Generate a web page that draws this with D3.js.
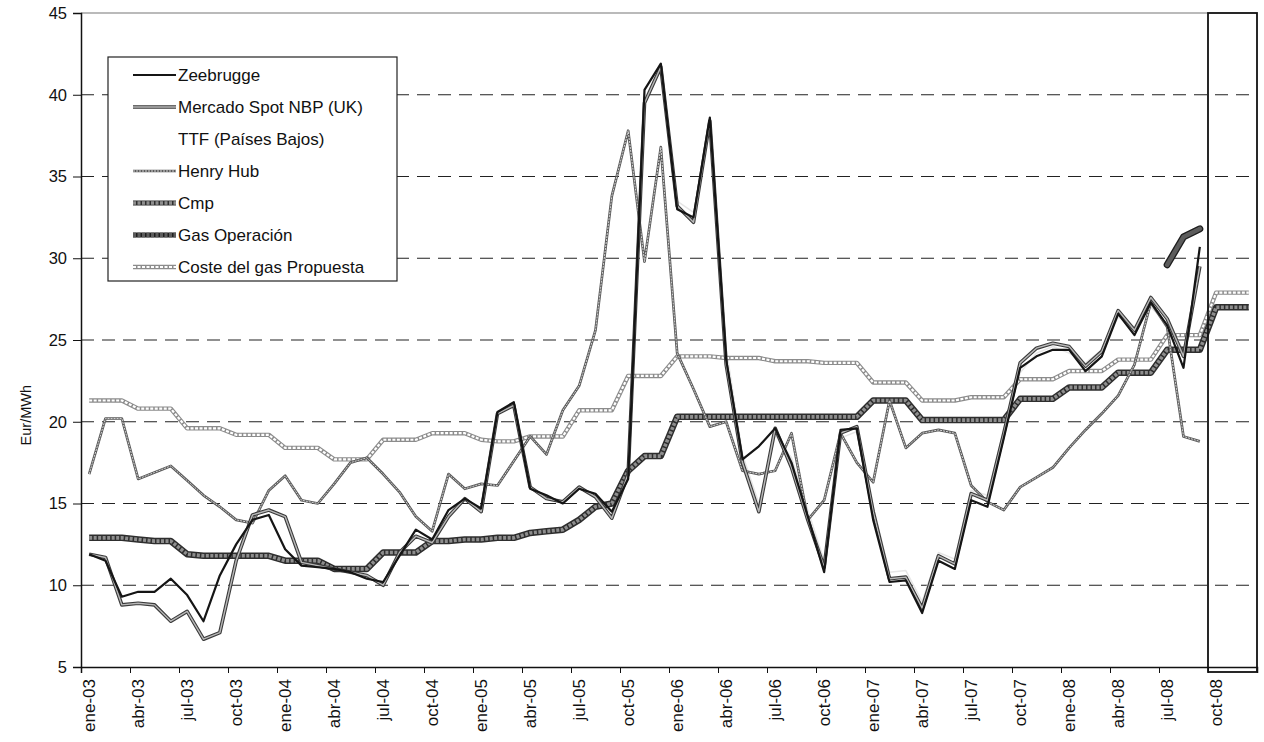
<!DOCTYPE html>
<html><head><meta charset="utf-8">
<script src="https://cdn.jsdelivr.net/npm/d3@7"></script>
<style>
body{margin:0;background:#fff}
text{font-family:"Liberation Sans",Arial,sans-serif;fill:#111}
</style>
</head><body>
<svg id="c" width="1264" height="742"></svg>
<script>
const categories = [
"ene-03","feb-03","mar-03","abr-03","may-03","jun-03","jul-03","ago-03","sep-03","oct-03","nov-03","dic-03",
"ene-04","feb-04","mar-04","abr-04","may-04","jun-04","jul-04","ago-04","sep-04","oct-04","nov-04","dic-04",
"ene-05","feb-05","mar-05","abr-05","may-05","jun-05","jul-05","ago-05","sep-05","oct-05","nov-05","dic-05",
"ene-06","feb-06","mar-06","abr-06","may-06","jun-06","jul-06","ago-06","sep-06","oct-06","nov-06","dic-06",
"ene-07","feb-07","mar-07","abr-07","may-07","jun-07","jul-07","ago-07","sep-07","oct-07","nov-07","dic-07",
"ene-08","feb-08","mar-08","abr-08","may-08","jun-08","jul-08","ago-08","sep-08","oct-08","nov-08","dic-08"];

const tickLabels = ["ene-03","abr-03","jul-03","oct-03","ene-04","abr-04","jul-04","oct-04",
"ene-05","abr-05","jul-05","oct-05","ene-06","abr-06","jul-06","oct-06",
"ene-07","abr-07","jul-07","oct-07","ene-08","abr-08","jul-08","oct-08"];
const yTicks = [5,10,15,20,25,30,35,40,45];

const zeebrugge = [11.9,11.5,9.3,9.6,9.6,10.4,9.4,7.8,10.6,12.5,14.0,14.3,
 12.2,11.2,11.1,11.0,10.8,10.4,10.2,11.8,13.4,12.8,14.6,15.3,
 14.7,20.6,21.2,15.9,15.5,15.0,15.9,15.6,14.5,16.5,40.3,41.9,
 33.0,32.5,38.6,23.8,17.7,18.5,19.6,17.5,14.2,10.8,19.5,19.6,
 14.0,10.2,10.3,8.3,11.5,11.0,15.2,14.8,19.0,23.3,24.0,24.4,
 24.4,23.1,24.0,26.6,25.3,27.3,25.9,23.3,30.7,null,null,null];

const nbp = [11.9,11.7,8.8,8.9,8.8,7.8,8.4,6.7,7.1,11.5,14.3,14.6,
 14.2,11.4,11.2,11.0,10.8,10.6,10.0,12.0,13.0,12.6,14.2,15.3,
 14.5,20.5,21.0,16.0,15.3,15.1,16.0,15.4,14.1,16.8,39.5,41.7,
 33.2,32.2,38.4,23.5,17.5,14.5,19.6,17.2,14.0,11.1,19.3,19.7,
 14.5,10.4,10.5,8.6,11.8,11.3,15.6,15.2,19.3,23.6,24.5,24.8,
 24.6,23.4,24.3,26.8,25.6,27.6,26.3,24.0,29.5,null,null,null];

const ttf = [null,null,null,null,null,null,null,null,null,null,null,null,
 null,null,null,null,null,null,null,null,null,null,null,null,
 null,null,null,null,null,null,null,null,null,null,null,null,
 33.5,32.8,38.0,24.5,18.0,15.0,19.2,17.8,14.6,11.5,19.0,19.4,
 14.8,10.8,10.9,9.0,12.0,11.6,15.8,15.5,19.5,23.0,24.2,24.6,
 24.2,23.6,24.4,26.4,25.8,27.0,26.0,24.4,29.3,null,null,null];

const henryHub = [16.8,20.2,20.2,16.5,16.9,17.3,16.4,15.5,14.8,14.0,13.8,15.8,
 16.7,15.2,15.0,16.2,17.5,17.8,16.8,15.7,14.2,13.3,16.8,15.9,
 16.2,16.1,17.6,19.1,18.0,20.7,22.2,25.6,33.8,37.8,29.8,36.8,
 24.2,22.0,19.7,20.0,17.0,16.8,17.0,19.3,14.0,15.2,19.3,17.5,
 16.3,21.3,18.4,19.3,19.5,19.3,16.1,15.1,14.6,16.0,16.6,17.2,
 18.4,19.5,20.5,21.6,23.5,27.3,25.8,19.1,18.8,null,null,null];

const cmp = [12.9,12.9,12.9,12.8,12.7,12.7,11.9,11.8,11.8,11.8,11.8,11.8,
 11.5,11.5,11.5,11.0,11.0,11.0,12.0,12.0,12.0,12.7,12.7,12.8,
 12.8,12.9,12.9,13.2,13.3,13.4,14.0,14.8,15.0,17.0,17.9,17.9,
 20.3,20.3,20.3,20.3,20.3,20.3,20.3,20.3,20.3,20.3,20.3,20.3,
 21.3,21.3,21.3,20.1,20.1,20.1,20.1,20.1,20.1,21.4,21.4,21.4,
 22.1,22.1,22.1,23.0,23.0,23.0,24.4,24.4,24.4,27.0,27.0,27.0];

const gasOperacion = [null,null,null,null,null,null,null,null,null,null,null,null,
 null,null,null,null,null,null,null,null,null,null,null,null,
 null,null,null,null,null,null,null,null,null,null,null,null,
 null,null,null,null,null,null,null,null,null,null,null,null,
 null,null,null,null,null,null,null,null,null,null,null,null,
 null,null,null,null,null,null,29.6,31.3,31.8,null,null,null];

const costePropuesta = [21.3,21.3,21.3,20.8,20.8,20.8,19.6,19.6,19.6,19.2,19.2,19.2,
 18.4,18.4,18.4,17.7,17.7,17.7,18.9,18.9,18.9,19.3,19.3,19.3,
 18.9,18.8,18.8,19.1,19.1,19.1,20.7,20.7,20.7,22.8,22.8,22.8,
 24.0,24.0,24.0,23.9,23.9,23.9,23.7,23.7,23.7,23.6,23.6,23.6,
 22.4,22.4,22.4,21.3,21.3,21.3,21.5,21.5,21.5,22.6,22.6,22.6,
 23.1,23.1,23.1,23.8,23.8,23.8,25.3,25.3,25.3,27.9,27.9,27.9];

const seriesNames = ["Zeebrugge","Mercado Spot NBP (UK)","TTF (Países Bajos)","Henry Hub","Cmp","Gas Operación","Coste del gas Propuesta"];

const styles = {
  "Zeebrugge": [["#151515",2.2,null]],
  "Mercado Spot NBP (UK)": [["#3a3a3a",3.6,null],["#b8b8b8",1.4,null]],
  "TTF (Países Bajos)": [["#e6e6e6",1.5,null]],
  "Henry Hub": [["#5a5a5a",2.7,null],["#d4d4d4",1.0,"2,1"]],
  "Cmp": [["#2e2e2e",6.5,null],["#8e8e8e",3.6,"3,1.5"]],
  "Gas Operación": [["#1e1e1e",7,null],["#5c5c5c",4.4,"3,1.5"]],
  "Coste del gas Propuesta": [["#8c8c8c",4.4,null],["#ffffff",2.2,"3,1.5"]]
};
const dataBy = {
  "Zeebrugge": zeebrugge, "Mercado Spot NBP (UK)": nbp, "TTF (Países Bajos)": ttf,
  "Henry Hub": henryHub, "Cmp": cmp, "Gas Operación": gasOperacion, "Coste del gas Propuesta": costePropuesta
};
const drawOrder = ["TTF (Países Bajos)","Coste del gas Propuesta","Cmp","Gas Operación","Henry Hub","Mercado Spot NBP (UK)","Zeebrugge"];

const svg = d3.select("#c");
const X0 = 81, X1 = 1257, Y0 = 667, Y1 = 13;
const x = d3.scaleLinear().domain([0, categories.length]).range([X0, X1]);
const y = d3.scaleLinear().domain([5, 45]).range([Y0, Y1]);

svg.append("g").selectAll("line").data(yTicks.filter(v => v > 5 && v < 45)).join("line")
  .attr("x1", X0).attr("x2", X1).attr("y1", d => y(d)).attr("y2", d => y(d))
  .attr("stroke", "#222").attr("stroke-width", 1.2).attr("stroke-dasharray", "13,8");
svg.append("line").attr("x1", X0).attr("x2", x(69)).attr("y1", y(45)).attr("y2", y(45))
  .attr("stroke", "#777").attr("stroke-width", 1.2);

const line = d3.line().defined(d => d != null).x((d, i) => x(i + 0.5)).y(d => y(d));
const gLines = svg.append("g").attr("fill", "none").attr("stroke-linejoin", "round");
drawOrder.forEach(name => {
  styles[name].forEach(([c, w, dash]) => {
    gLines.append("path").datum(dataBy[name]).attr("d", line)
      .attr("stroke", c).attr("stroke-width", w)
      .attr("stroke-dasharray", dash)
      .attr("stroke-linecap", name === "Gas Operación" ? "round" : "butt");
  });
});

const yAxis = d3.axisLeft(y).tickValues(yTicks).tickSize(8).tickPadding(6).tickFormat(d3.format("d"));
const gy = svg.append("g").attr("transform", `translate(${X0},0)`).call(yAxis);
gy.select(".domain").attr("stroke", "#111").attr("stroke-width", 1.5);
gy.selectAll(".tick line").attr("stroke", "#111");
gy.selectAll("text").style("font-size", "16.5px").attr("fill", "#111");

const tickIdx = d3.range(0, categories.length, 3);
const xAxis = d3.axisBottom(x).tickValues(tickIdx).tickSize(6).tickFormat("");
const gx = svg.append("g").attr("transform", `translate(0,${Y0})`).call(xAxis);
gx.select(".domain").attr("stroke", "#111").attr("stroke-width", 1.5);
gx.selectAll(".tick line").attr("stroke", "#111");
svg.append("g").selectAll("text").data(tickLabels).join("text")
  .attr("transform", (d, k) => `translate(${x(tickIdx[k] + 0.5) + 6},${Y0 + 12}) rotate(-90)`)
  .attr("text-anchor", "end").style("font-size", "17px").text(d => d);

svg.append("text").attr("transform", `translate(31,${y(20.4)}) rotate(-90)`)
  .attr("text-anchor", "middle").style("font-size", "14.5px").text("Eur/MWh");

svg.append("rect").attr("x", x(69)).attr("y", y(45)).attr("width", x(72) - x(69)).attr("height", Y0 + 5 - y(45))
  .attr("fill", "none").attr("stroke", "#111").attr("stroke-width", 1.8);

const lg = svg.append("g");
lg.append("rect").attr("x", 108).attr("y", 57).attr("width", 289).attr("height", 224)
  .attr("fill", "#fff").attr("stroke", "#222").attr("stroke-width", 1.2);
seriesNames.forEach((name, k) => {
  const cy = 75 + k * 32;
  styles[name].forEach(([c, w, dash]) => {
    if (name === "TTF (Países Bajos)") return;
    lg.append("line").attr("x1", 133).attr("x2", 176).attr("y1", cy).attr("y2", cy)
      .attr("stroke", c).attr("stroke-width", Math.min(w, 5)).attr("stroke-dasharray", dash);
  });
  lg.append("text").attr("x", 178).attr("y", cy + 6).style("font-size", "17px").text(name);
});
</script>
</body></html>
